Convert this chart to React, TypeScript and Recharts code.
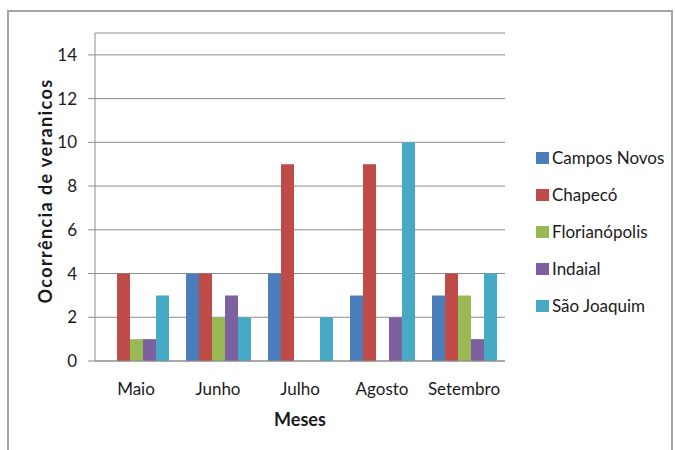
import { BarChart, Bar, CartesianGrid, XAxis, YAxis, Legend, Label } from "recharts";

const months = ["Maio", "Junho", "Julho", "Agosto", "Setembro"];
const camposNovos = [0, 4, 4, 3, 3];
const chapeco = [4, 4, 9, 9, 4];
const florianopolis = [1, 2, 0, 0, 3];
const indaial = [1, 3, 0, 2, 1];
const saoJoaquim = [3, 2, 2, 10, 4];
const yTicks = [0, 2, 4, 6, 8, 10, 12, 14];

const series = [
  { key: "cn", name: "Campos Novos", color: "#4A7EBB", values: camposNovos },
  { key: "ch", name: "Chapecó", color: "#BE4B48", values: chapeco },
  { key: "fl", name: "Florianópolis", color: "#98B954", values: florianopolis },
  { key: "in", name: "Indaial", color: "#7D60A0", values: indaial },
  { key: "sj", name: "São Joaquim", color: "#46AAC5", values: saoJoaquim },
];

const data = months.map((m, i) => {
  const row: Record<string, string | number> = { month: m };
  series.forEach((s) => (row[s.key] = s.values[i]));
  return row;
});

function LegendBox(props: any) {
  const items = props.payload || [];
  return (
    <div>
      {items.map((it: any) => (
        <div
          key={it.value}
          style={{ display: "flex", alignItems: "center", height: 37, fontSize: 17, color: "#1a1a1a" }}
        >
          <span style={{ width: 13, height: 12, background: it.color, marginRight: 3, display: "inline-block" }} />
          {it.value}
        </div>
      ))}
    </div>
  );
}

export default function App() {
  return (
    <div
      style={{
        position: "absolute",
        left: 0,
        top: 0,
        width: 675,
        height: 450,
        background: "#fff",
        overflow: "hidden",
        fontFamily: "Lato, sans-serif",
      }}
    >
      <div
        style={{
          position: "absolute",
          left: 7,
          top: 10,
          width: 662,
          height: 460,
          border: "2px solid #a6a6a6",
        }}
      />
      <BarChart
        width={675}
        height={450}
        data={data}
        margin={{ top: 33, right: 170, bottom: 49, left: 35 }}
        barCategoryGap="11%"
        barGap={0}
      >
        <CartesianGrid vertical={false} stroke="#8c8c8c" />
        <XAxis
          dataKey="month"
          height={40}
          stroke="#8c8c8c"
          tickLine={false}
          tickSize={0}
          tickMargin={22}
          tick={{ fill: "#1a1a1a", fontSize: 17 }}
        >
          <Label value="Meses" position="center" dy={39} fill="#1a1a1a" fontSize={18} fontWeight="bold" />
        </XAxis>
        <YAxis
          width={60}
          domain={[0, 15]}
          ticks={yTicks}
          stroke="#8c8c8c"
          tickSize={7}
          tickMargin={11}
          tick={{ fill: "#1a1a1a", fontSize: 17 }}
        >
          <Label
            value="Ocorrência de veranicos"
            position="center"
            angle={-90}
            dx={-19}
            dy={-6}
            fill="#1a1a1a"
            fontSize={18}
            fontWeight="bold"
            letterSpacing={1.4}
          />
        </YAxis>
        <Legend
          layout="horizontal"
          align="center"
          verticalAlign="middle"
          content={<LegendBox />}
          wrapperStyle={{ left: 536, top: 139, width: 140 }}
        />
        {series.map((s) => (
          <Bar key={s.key} dataKey={s.key} name={s.name} fill={s.color} isAnimationActive={false} />
        ))}
      </BarChart>
    </div>
  );
}
